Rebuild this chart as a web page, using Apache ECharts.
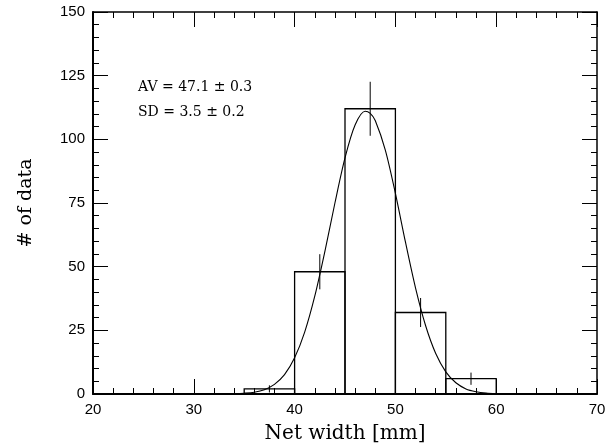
<!DOCTYPE html>
<html><head><meta charset="utf-8">
<script src="https://cdn.jsdelivr.net/npm/echarts@6/dist/echarts.min.js"></script>
<style>html,body{margin:0;padding:0;background:#fff}#c{width:606px;height:445px}</style>
</head><body><div id="c"></div>
<script>
// Histogram bins
var binStart = [35, 40, 45, 50, 55];
var binEnd   = [40, 45, 50, 55, 60];
var counts   = [2, 48, 112, 32, 6];
var errors   = [1.4, 6.9, 10.6, 5.7, 2.4];
// Fitted curve
var curveX = [20, 30, 33, 34, 35, 36, 37, 38, 39, 40, 41, 42, 43, 44, 45, 46, 47, 47.5, 48, 49, 50, 51, 52, 53, 54, 55, 56, 57, 58, 59, 60, 61, 62, 64, 70];
var curveY = [0, 0, 0.02, 0.1, 0.3, 0.7, 1.7, 3.8, 7.6, 14.2, 24.3, 38.4, 55.9, 75.0, 92.7, 105.6, 111.0, 110.2, 107.4, 95.8, 78.8, 59.6, 41.6, 26.8, 15.9, 8.7, 4.4, 2.0, 0.9, 0.34, 0.12, 0.04, 0.01, 0, 0];
var xTicks = [20, 30, 40, 50, 60, 70];
var yTicks = [0, 25, 50, 75, 100, 125, 150];
var annot = ["AV = 47.1 \u00b1 0.3", "SD = 3.5 \u00b1 0.2"];

var histData = binStart.map(function(s, i){ return [s, binEnd[i], counts[i], errors[i]]; });
var curveData = curveX.map(function(x, i){ return [x, curveY[i]]; });

var chart = echarts.init(document.getElementById('c'));
var tickCommon = {inside: true, length: 15, lineStyle: {color: '#000', width: 1}};
var minorCommon = {show: true, length: 6, lineStyle: {color: '#000', width: 1}};
var lblFont = {color: '#000', fontFamily: 'Liberation Sans, Arial, sans-serif', fontSize: 15};
function xAx(pos, showLabel) {
  return {type: 'value', position: pos, min: xTicks[0], max: xTicks[xTicks.length-1], interval: 10,
    axisLine: {show: true, onZero: false, lineStyle: {color: '#000', width: pos === 'bottom' ? 2 : 1.5}},
    axisTick: tickCommon, minorTick: Object.assign({splitNumber: 5}, minorCommon),
    axisLabel: Object.assign({show: showLabel, margin: 8}, lblFont),
    splitLine: {show: false},
    name: showLabel ? 'Net width [mm]' : '', nameLocation: 'middle', nameGap: 30,
    nameTextStyle: {color: '#000', fontFamily: 'DejaVu Serif, serif', fontSize: 20}};
}
function yAx(pos, showLabel) {
  return {type: 'value', position: pos, min: yTicks[0], max: yTicks[yTicks.length-1], interval: 25,
    axisLine: {show: true, onZero: false, lineStyle: {color: '#000', width: pos === 'left' ? 2 : 1.5}},
    axisTick: tickCommon, minorTick: Object.assign({splitNumber: 5}, minorCommon),
    axisLabel: Object.assign({show: showLabel, margin: 8}, lblFont),
    splitLine: {show: false},
    name: showLabel ? '# of data' : '', nameLocation: 'middle', nameGap: 57,
    nameTextStyle: {color: '#000', fontFamily: 'DejaVu Serif, serif', fontSize: 19}};
}
chart.setOption({
  animation: false,
  backgroundColor: '#fff',
  grid: {left: 93, right: 9, top: 12, bottom: 51, containLabel: false, outerBoundsMode: 'none'},
  xAxis: [xAx('bottom', true), xAx('top', false)],
  yAxis: [yAx('left', true), yAx('right', false)],
  graphic: [
    {type: 'text', left: 138, top: 80, style: {text: annot[0], fill: '#000', font: '14px "DejaVu Serif", serif'}},
    {type: 'text', left: 138, top: 105, style: {text: annot[1], fill: '#000', font: '14px "DejaVu Serif", serif'}}
  ],
  series: [
    {type: 'custom', data: histData, xAxisIndex: 0, yAxisIndex: 0,
      renderItem: function(params, api){
        var s = api.value(0), e = api.value(1), c = api.value(2), er = api.value(3);
        var p0 = api.coord([s, 0]), p1 = api.coord([e, c]);
        var mid = (s + e) / 2;
        var eb0 = api.coord([mid, c - er]), eb1 = api.coord([mid, c + er]);
        return {type: 'group', children: [
          {type: 'rect', shape: {x: p0[0], y: p1[1], width: p1[0] - p0[0], height: p0[1] - p1[1]},
            style: {fill: 'none', stroke: '#000', lineWidth: 1.3}},
          {type: 'line', shape: {x1: eb0[0], y1: eb0[1], x2: eb1[0], y2: eb1[1]},
            style: {stroke: '#000', lineWidth: 1}}
        ]};
      }, z: 3},
    {type: 'line', data: curveData, smooth: 0.3, symbol: 'none', xAxisIndex: 0, yAxisIndex: 0,
      lineStyle: {color: '#000', width: 1.1}, z: 4}
  ]
});
</script></body></html>
